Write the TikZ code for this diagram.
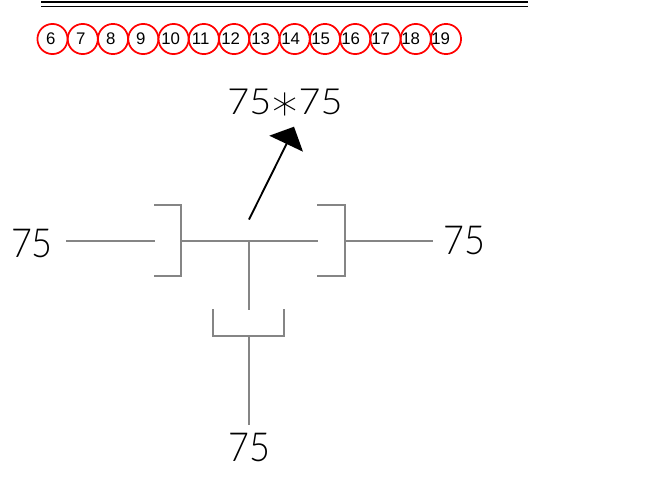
\documentclass[tikz,border=0pt]{standalone}
\usepackage{fontspec}
\setmainfont{Liberation Sans}
\newfontfamily\cadfont{Lato Light}
\newfontfamily\starfont{DejaVu Sans ExtraLight}
\tikzset{
  x=0.75pt,y=-0.75pt,
  blk/.style={line width=1.2pt,black},
  gr/.style={line width=1.2pt,color=black!48},
  ring/.style={circle,draw=red,line width=1.3pt,minimum size=22.6pt,inner sep=0pt},
  num/.style={inner sep=0pt,font=\fontsize{12.6}{14}\selectfont,text=black},
  cad/.style={inner sep=0pt,font=\cadfont\fontsize{30}{32}\selectfont,text=black},
  cadtop/.style={inner sep=0pt,anchor=base,font=\cadfont\fontsize{27}{30}\selectfont,text=black},
}
\begin{document}
\begin{tikzpicture}
\useasboundingbox (0,0) rectangle (658,483);
\coordinate (d1a) at (41,2); \coordinate (d1b) at (528,2);
\coordinate (d2a) at (41,6.3); \coordinate (d2b) at (528,6.3);
\draw[blk] (d1a)--(d1b);
\draw[blk] (d2a)--(d2b);
\foreach \n [count=\i from 0] in {6,...,19}{
  \node[ring] (c\n) at ({52.5+30.27*\i},39) {};
  \node[num] (t\n) at ({50.7+30*\i},39) {\n};
}
\node[cadtop] (top) at (285,114.5) {\scalebox{1.05}[1]{75}\hspace{0.03em}\raisebox{-0.45em}{\starfont\fontsize{38}{38}\selectfont *}\hspace{0.03em}\scalebox{1.05}[1]{75}};
\node[cad] (left) at (32,243.5) {\scalebox{0.9}[1]{75}};
\node[cad] (right) at (464,240.5) {\scalebox{0.9}[1]{75}};
\node[cad] (bottom) at (249,448) {\scalebox{0.9}[1]{75}};
\coordinate (as) at (249,219.5); \coordinate (ae) at (287,143);
\coordinate (h1) at (269.3,135.7); \coordinate (h2) at (294,126.7); \coordinate (h3) at (303,151.7);
\draw[line width=1.4pt,black] (as)--(ae);
\fill[black] (h1)--(h2)--(h3)--cycle;
% brackets
\coordinate (l1) at (154,205); \coordinate (l2) at (181,205); \coordinate (l3) at (181,276); \coordinate (l4) at (154,276);
\coordinate (r1) at (317,205); \coordinate (r2) at (345,205); \coordinate (r3) at (345,276); \coordinate (r4) at (317,276);
\coordinate (b1) at (213,309); \coordinate (b2) at (213,336); \coordinate (b3) at (284,336); \coordinate (b4) at (284,309);
\draw[gr] (l1)--(l2)--(l3)--(l4);
\draw[gr] (r1)--(r2)--(r3)--(r4);
\draw[gr] (b1)--(b2)--(b3)--(b4);
\coordinate (la) at (66,241); \coordinate (lb) at (155,241);
\coordinate (ma) at (181,241); \coordinate (mb) at (318,241);
\coordinate (ra) at (345,241); \coordinate (rb) at (433,241);
\coordinate (va) at (249,241); \coordinate (vb) at (249,310);
\coordinate (wa) at (249,336); \coordinate (wb) at (249,425);
\draw[gr] (la)--(lb);
\draw[gr] (ma)--(mb);
\draw[gr] (ra)--(rb);
\draw[gr] (va)--(vb);
\draw[gr] (wa)--(wb);
\end{tikzpicture}
\end{document}
